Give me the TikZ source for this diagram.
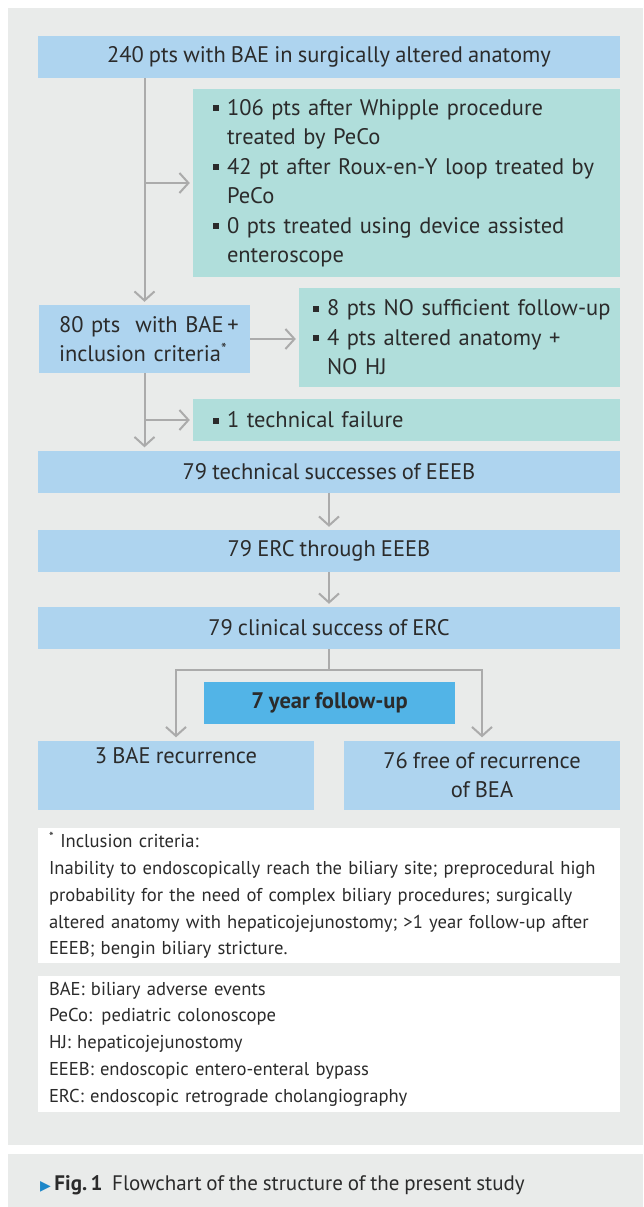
\documentclass[tikz,border=0pt]{standalone}
\usepackage{fontspec}
\setmainfont[WordSpace=0.85]{PT Sans}
\newfontfamily\symfont{DejaVu Sans}
\usetikzlibrary{arrows.meta}
\definecolor{panelgray}{HTML}{E9EBEA}
\definecolor{boxblue}{HTML}{AED4EF}
\definecolor{boxgreen}{HTML}{B0DEDB}
\definecolor{headblue}{HTML}{52B4E7}
\definecolor{arrgray}{HTML}{ABABAB}
\definecolor{txtgray}{HTML}{2B2B2B}
\definecolor{capblue}{HTML}{1D87C9}
\newcommand\sqb{\makebox[14pt][l]{\rule[4pt]{6pt}{6pt}}}
\newcommand\ind{\hspace*{14pt}}

\begin{document}
\begin{tikzpicture}[x=1pt,y=-1pt]
\tikzset{
  blk/.style={inner sep=0pt, text=txtgray, font=\fontsize{22.5}{29.5}\selectfont, minimum height=42pt},
  bluebox/.style={blk, fill=boxblue, align=center},
  greenbox/.style={blk, fill=boxgreen, align=left},
  notebox/.style={blk, fill=white, align=left, inner xsep=11pt, text width=560pt, font=\fontsize{18.6}{26.7}\selectfont},
  arr/.style={draw=arrgray, line width=2pt, -{Straight Barb[length=9pt,width=20pt]}, shorten >=3pt}
}
\useasboundingbox (0,0) rectangle (643,1207);
\fill[panelgray] (8,8) rectangle (643,1145);
\fill[panelgray] (8,1154) rectangle (643,1207);
\node[bluebox, minimum width=582pt] (start) at (329,57) {240 pts with BAE in surgically altered anatomy};
\node[greenbox, inner xsep=20pt, text width=387pt, minimum height=188pt] (excl1) at (406.5,183)
  {\sqb 106 pts after Whipple procedure\\ \ind treated by PeCo\\
   \sqb 42 pt after Roux-en-Y loop treated by\\ \ind PeCo\\
   \sqb 0 pts treated using device assisted\\ \ind enteroscope};
\node[bluebox, align=left, inner xsep=20pt, text width=171pt, minimum height=68pt] (crit) at (144.5,339)
  {\mbox{80 pts\ \ with BAE\,+}\\ \mbox{inclusion criteria\textsuperscript{*}}};
\node[greenbox, inner xsep=14pt, text width=293pt, minimum height=99pt] (excl2) at (459.5,337.5)
  {\mbox{\sqb 8 pts NO sufficient follow-up}\\ \sqb 4 pts altered anatomy +\\ \ind NO HJ};
\node[greenbox, inner xsep=20pt, text width=387pt] (fail) at (406.5,420) {\sqb 1 technical failure};
\node[bluebox, minimum width=582pt] (tech) at (329,471.5) {79 technical successes of EEEB};
\node[bluebox, minimum width=582pt] (erc) at (329,551) {79 ERC through EEEB};
\node[bluebox, minimum width=582pt] (clin) at (329,628) {79 clinical success of ERC};
\node[blk, fill=headblue, minimum width=251pt, font=\fontsize{22.5}{29.5}\selectfont\bfseries] (follow) at (329.5,703) {7 year follow-up};
\node[bluebox, minimum width=276pt, minimum height=69pt] (rec) at (176,775) {3 BAE recurrence\\ \strut};
\node[bluebox, minimum width=276pt, minimum height=69pt] (free) at (482,775) {76 free of recurrence\\ of BEA};
\node[notebox, minimum height=135pt] (incl) at (329,895.5)
  {\textsuperscript{*} Inclusion criteria:\\
   \mbox{Inability to endoscopically reach the biliary site; preprocedural high}\\
   probability for the need of complex biliary procedures; surgically\\
   \mbox{altered anatomy with hepaticojejunostomy; >1 year follow-up after}\\
   EEEB; bengin biliary stricture.};
\node[notebox, minimum height=136pt] (abbr) at (329,1044)
  {BAE: biliary adverse events\\
   PeCo: pediatric colonoscope\\
   HJ: hepaticojejunostomy\\
   EEEB: endoscopic entero-enteral bypass\\
   ERC: endoscopic retrograde cholangiography};
\node[anchor=base west, inner sep=0pt, text=txtgray, font=\fontsize{21}{24}\selectfont] (cap) at (40,1190)
  {{\symfont\fontsize{14}{14}\selectfont\textcolor{capblue}{▶}}\,\textbf{Fig.\,1}\ \ Flowchart of the structure of the present study};
\draw[arr] (crit.north |- start.south) -- (crit.north);
\draw[arr] (crit.north |- excl1.west) -- (excl1.west);
\draw[arr] (crit.east) -- (crit.east -| excl2.west);
\draw[arr] (crit.south) -- (crit.south |- tech.north);
\draw[arr] (crit.south |- fail.west) -- (fail.west);
\draw[arr] (tech.south) -- (erc.north);
\draw[arr] (erc.south) -- (clin.north);
\draw[arr] (clin.south) -- ++(0,21) -| (rec.north);
\draw[arr] (clin.south) -- ++(0,21) -| (free.north);
\end{tikzpicture}
\end{document}
